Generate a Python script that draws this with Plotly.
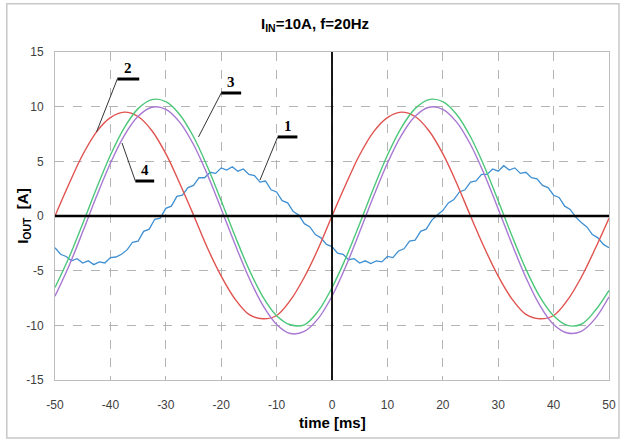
import plotly.graph_objects as go

# ---- data ----
t_smooth = [-50 + 2.5 * i for i in range(41)]
t_blue = list(range(-50, 51))

red_2 = [0.0, 2.9, 5.6, 7.7, 9.0, 9.5, 9.1, 7.8, 5.7, 3.0, 0.1, -2.9, -5.5, -7.6, -9.0, -9.4,
         -9.1, -7.7, -5.6, -3.0, 0.0, 2.9, 5.6, 7.7, 9.0, 9.5, 9.1, 7.8, 5.7, 3.0, 0.0,
         -2.9, -5.5, -7.6, -9.0, -9.4, -9.1, -7.7, -5.6, -3.0, -0.2]

green_3 = [-6.54, -3.82, -0.70, 2.54, 5.56, 8.07, 9.82, 10.65, 10.46, 9.29, 7.25, 4.53, 1.40,
           -1.83, -4.86, -7.37, -9.12, -9.95, -9.95, -8.7, -6.55, -3.83, -0.70, 2.54, 5.56,
           8.07, 9.82, 10.65, 10.46, 9.29, 7.25, 4.53, 1.40, -1.83, -4.86, -7.37, -9.12,
           -10.0, -9.9, -8.65, -6.8]

purple_4 = [-7.33, -4.59, -1.45, 1.80, 4.83, 7.36, 9.12, 9.95, 9.76, 8.59, 6.54, 3.80, 0.65,
            -2.59, -5.63, -8.16, -9.92, -10.75, -10.56, -9.39, -7.34, -4.60, -1.45, 1.80,
            4.83, 7.36, 9.12, 9.95, 9.76, 8.59, 6.54, 3.80, 0.65, -2.59, -5.63, -8.16, -9.92,
            -10.7, -10.55, -9.39, -7.4]

blue_1 = [-2.9, -3.5, -3.7, -4.1, -3.9, -4.3, -4.1, -4.45, -4.2, -4.3, -3.8, -3.75, -3.5,
          -3.1, -2.4, -2.3, -1.4, -1.2, -0.3, -0.2, 0.7, 0.9, 1.8, 1.9, 2.6, 2.8, 3.5, 3.5,
          4.0, 3.9, 4.4, 4.2, 4.5, 4.1, 4.3, 3.8, 3.7, 3.1, 3.2, 2.4, 2.2, 1.4, 1.2, 0.4,
          0.1, -0.7, -1.0, -1.7, -2.0, -2.6, -2.8, -3.4, -3.5, -4.0, -3.9, -4.3, -4.1,
          -4.35, -4.1, -4.2, -3.7, -3.8, -3.2, -3.0, -2.3, -2.2, -1.4, -1.2, -0.4, 0.1,
          0.5, 1.2, 1.5, 2.2, 2.4, 3.1, 3.2, 3.8, 3.8, 4.3, 4.1, 4.6, 4.2, 4.4, 3.9, 4.0,
          3.5, 3.4, 2.8, 2.6, 1.9, 1.7, 0.9, 0.6, -0.1, -0.6, -1.0, -1.7, -2.0, -2.6, -2.9]

x_ticks = [-50, -40, -30, -20, -10, 0, 10, 20, 30, 40, 50]
y_ticks = [-15, -10, -5, 0, 5, 10, 15]

# curve labels: (text, text_x, text_y, underline_x0, underline_x1, underline_y, tip_x, tip_y)
labels = [
    ("2", -36.8, 13.5, -38.75, -34.8, 12.53, -42.5, 7.69),
    ("3", -18.2, 12.3, -20.0, -16.4, 11.25, -24.1, 7.23),
    ("4", -33.8, 4.2, -35.5, -32.1, 3.2, -37.9, 6.68),
    ("1", -8.0, 8.2, -9.8, -6.25, 7.23, -13.0, 3.29),
]

fig = go.Figure()
fig.add_trace(go.Scatter(x=t_blue, y=blue_1, mode="lines",
                         line=dict(color="#3f8fd2", width=1.3), name="1"))
fig.add_trace(go.Scatter(x=t_smooth, y=red_2, mode="lines", line_shape="spline",
                         line=dict(color="#e0534f", width=1.4), name="2"))
fig.add_trace(go.Scatter(x=t_smooth, y=purple_4, mode="lines", line_shape="spline",
                         line=dict(color="#a878d2", width=1.4), name="4"))
fig.add_trace(go.Scatter(x=t_smooth, y=green_3, mode="lines", line_shape="spline",
                         line=dict(color="#4cc77a", width=1.4), name="3"))

shapes = []
# zero axes
shapes.append(dict(type="line", xref="x", yref="y", x0=-50, x1=50, y0=0, y1=0,
                   line=dict(color="black", width=2.5), layer="above"))
shapes.append(dict(type="line", xref="x", yref="y", x0=0, x1=0, y0=-15, y1=15,
                   line=dict(color="black", width=1.8), layer="above"))
# outer frame
shapes.append(dict(type="rect", xref="paper", yref="paper", x0=-0.087, x1=1.018,
                   y0=-0.177, y1=1.147, line=dict(color="#c8c8c8", width=1.5)))

annotations = []
for txt, tx, ty, ux0, ux1, uy, px, py in labels:
    shapes.append(dict(type="line", xref="x", yref="y", x0=ux0, x1=ux1, y0=uy, y1=uy,
                       line=dict(color="black", width=3), layer="above"))
    shapes.append(dict(type="line", xref="x", yref="y", x0=ux0, x1=px, y0=uy, y1=py,
                       line=dict(color="#333333", width=1), layer="above"))
    annotations.append(dict(x=tx, y=ty, xref="x", yref="y", text="<b>%s</b>" % txt,
                            showarrow=False,
                            font=dict(family="Liberation Serif, Times New Roman, serif",
                                      size=15, color="black")))

annotations.append(dict(x=0.47, y=1.085, xref="paper", yref="paper", showarrow=False,
                        xanchor="center", yanchor="middle",
                        text="<b>I<sub>IN</sub>=10A, f=20Hz</b>",
                        font=dict(family="Liberation Sans, Arial, sans-serif", size=15,
                                  color="black")))
annotations.append(dict(x=0.5, y=-0.13, xref="paper", yref="paper", showarrow=False,
                        xanchor="center", yanchor="middle",
                        text="<b>time [ms]</b>",
                        font=dict(family="Liberation Sans, Arial, sans-serif", size=15,
                                  color="black")))
annotations.append(dict(x=-0.058, y=0.5, xref="paper", yref="paper", showarrow=False,
                        xanchor="center", yanchor="middle", textangle=-90,
                        text="<b>I<sub>OUT</sub>  [A]</b>",
                        font=dict(family="Liberation Sans, Arial, sans-serif", size=15,
                                  color="black")))

fig.update_layout(
    width=628, height=440,
    margin=dict(l=55, r=12, t=52, b=60),
    paper_bgcolor="white", plot_bgcolor="white",
    showlegend=False,
    shapes=shapes, annotations=annotations,
    xaxis=dict(range=[-50, 50], tickvals=x_ticks, ticktext=[str(v) for v in x_ticks],
               showgrid=True, gridcolor="#b4b4b4", griddash="dash", gridwidth=1,
               zeroline=False, showline=True, linecolor="#bdbdbd", linewidth=1, mirror=True,
               ticks="", ticklabelstandoff=14,
               tickfont=dict(family="Liberation Sans, Arial, sans-serif", size=12,
                             color="#404040")),
    yaxis=dict(range=[-15, 15], tickvals=y_ticks, ticktext=[str(v) for v in y_ticks],
               showgrid=True, gridcolor="#b4b4b4", griddash="dash", gridwidth=1,
               zeroline=False, showline=True, linecolor="#bdbdbd", linewidth=1, mirror=True,
               ticks="", ticklabelstandoff=8,
               tickfont=dict(family="Liberation Sans, Arial, sans-serif", size=12,
                             color="#404040")),
)

fig.write_html("out.html")
